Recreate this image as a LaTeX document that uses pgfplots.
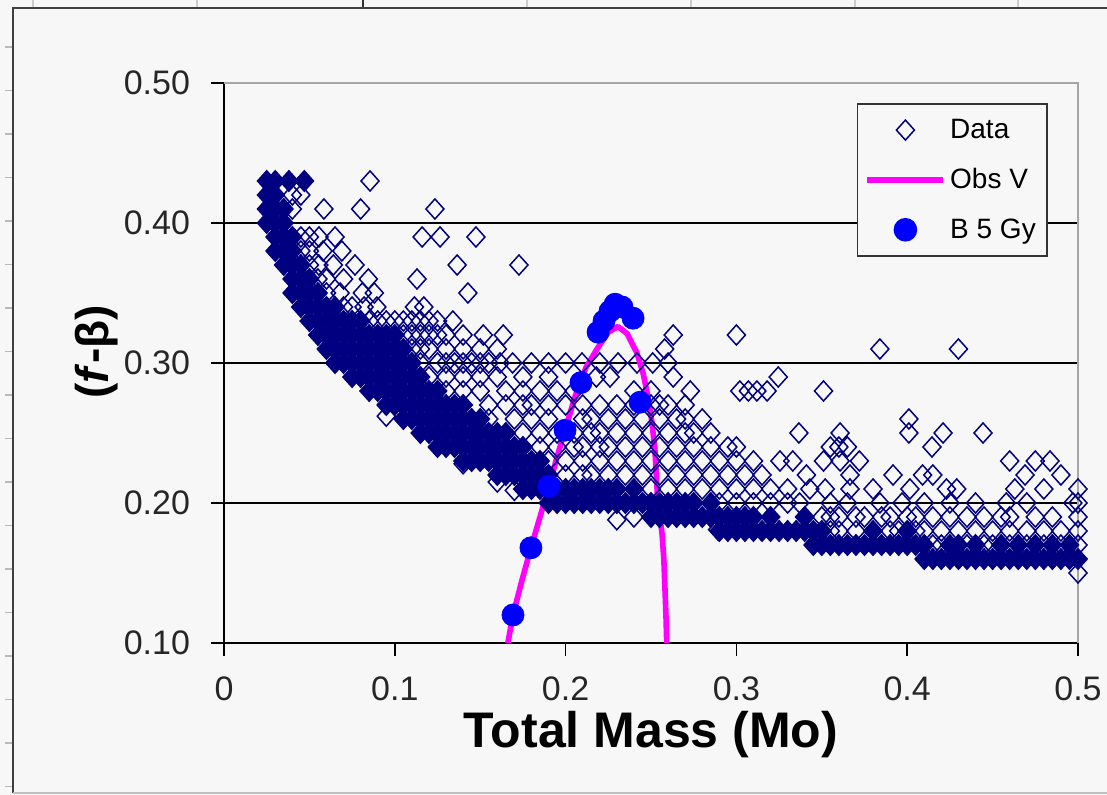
\documentclass[border=0pt]{standalone}
\usepackage{fontspec}
\setmainfont{Liberation Sans}
\usepackage{pgfplots}
\pgfplotsset{compat=1.18}
\definecolor{bgc}{RGB}{247,247,247}
\definecolor{navy}{RGB}{0,0,128}
\definecolor{mag}{RGB}{255,0,255}
\definecolor{bl}{RGB}{0,0,255}
\pgfplotsset{
  markleg/.style={legend image code/.code={\draw[mark repeat=2,mark phase=2,##1] plot coordinates {(0pt,0pt) (19pt,0pt) (38pt,0pt)};}},
  lineleg/.style={legend image code/.code={\draw[##1] (0pt,0pt) -- (38pt,0pt);}},
}
\begin{document}
\begin{tikzpicture}
\useasboundingbox (0,0) rectangle (553.5pt,397.5pt);
\fill[gray!6] (0,0) rectangle (553.5pt,397.5pt);
\foreach \xx in {16.5,98.5,263.5,345.5,427.5,509}{\draw[gray!40,line width=0.8pt] (\xx pt,393.5pt) -- (\xx pt,397.5pt);}
\draw[black!80,line width=0.8pt] (181.5pt,393.5pt) -- (181.5pt,397.5pt);
\foreach \k in {0,...,17}{\draw[gray!55,line width=0.6pt] (2.5pt,{374pt-\k*21.75pt}) -- (6.5pt,{374pt-\k*21.75pt});}
\fill[bgc] (6.5pt,1pt) rectangle (560pt,393.5pt);
\draw[black!75,line width=1pt] (6.5pt,1pt) -- (6.5pt,393.5pt) -- (560pt,393.5pt);
\draw[gray!50,line width=0.8pt] (6.5pt,1pt) -- (560pt,1pt);
\begin{axis}[
  at={(112pt,76pt)}, anchor=south west,
  scale only axis, width=427pt, height=280pt,
  xmin=0, xmax=0.5, ymin=0.1, ymax=0.5,
  axis x line*=bottom, axis y line*=left,
  axis line style={black, line width=1pt},
  xtick={0,0.1,0.2,0.3,0.4,0.5},
  ytick={0.1,0.2,0.3,0.4,0.5},
  tick align=outside, major tick length=6.5pt,
  tick style={black, line width=0.8pt},
  ymajorgrids, grid style={black, line width=0.9pt},
  /pgf/number format/assume math mode=true,
  ticklabel style={font=\fontsize{17}{20}\selectfont, text=black!85},
  yticklabel style={/pgf/number format/.cd, fixed, fixed zerofill, precision=2, /tikz/.cd, xshift=-7pt},
  xticklabel style={/pgf/number format/.cd, fixed, /tikz/.cd, yshift=-7pt},
  xlabel={Total Mass (Mo)}, ylabel={(\textit{f}-β)},
  label style={font=\bfseries\fontsize{25}{28}\selectfont},
  xlabel style={at={(axis description cs:0.5,-0.163)}, anchor=center},
  ylabel style={at={(axis description cs:-0.149,0.52)}, anchor=center, font=\bfseries\fontsize{23}{26}\selectfont},
  clip=false,
  legend cell align=left,
  legend style={at={(0.741,0.964)}, anchor=north west, draw=black!80, line width=0.8pt, fill=bgc,
    font=\fontsize{14}{16}\selectfont, inner xsep=3.5pt, inner ysep=5.5pt, row sep=9.5pt,
    nodes={inner sep=2pt}},
]
% dense core of the data (filled where the markers overlap)
\addplot[only marks, mark=diamond*, mark size=5.2pt, draw=navy, fill=navy, mark options={xscale=1.2, line width=0.6pt}, forget plot] coordinates {
(0.025,0.40)(0.025,0.41)(0.025,0.42)(0.025,0.43)
(0.03,0.38)(0.03,0.39)(0.03,0.40)(0.03,0.41)(0.03,0.42)(0.03,0.43)
(0.035,0.37)(0.035,0.38)(0.035,0.39)(0.035,0.40)(0.035,0.41)
(0.038,0.43)(0.047,0.43)
(0.04,0.35)(0.04,0.36)(0.04,0.37)(0.04,0.38)(0.04,0.39)
(0.045,0.34)(0.045,0.35)(0.045,0.36)(0.045,0.37)
(0.05,0.33)(0.05,0.34)(0.05,0.35)(0.05,0.36)
(0.055,0.32)(0.055,0.33)(0.055,0.34)(0.055,0.35)
(0.06,0.31)(0.06,0.32)(0.06,0.33)(0.06,0.34)
(0.065,0.30)(0.065,0.31)(0.065,0.32)(0.065,0.33)(0.065,0.34)
(0.07,0.30)(0.07,0.31)(0.07,0.32)(0.07,0.33)
(0.075,0.29)(0.075,0.30)(0.075,0.31)(0.075,0.32)(0.075,0.33)
(0.08,0.29)(0.08,0.30)(0.08,0.31)(0.08,0.32)(0.08,0.33)
(0.085,0.28)(0.085,0.29)(0.085,0.30)(0.085,0.31)(0.085,0.32)
(0.09,0.28)(0.09,0.29)(0.09,0.30)(0.09,0.31)(0.09,0.32)
(0.095,0.27)(0.095,0.28)(0.095,0.29)(0.095,0.30)(0.095,0.31)(0.095,0.32)
(0.10,0.27)(0.10,0.28)(0.10,0.29)(0.10,0.30)(0.10,0.31)(0.10,0.32)
(0.105,0.26)(0.105,0.27)(0.105,0.28)(0.105,0.29)(0.105,0.30)(0.105,0.31)
(0.11,0.26)(0.11,0.27)(0.11,0.28)(0.11,0.29)(0.11,0.30)
(0.115,0.25)(0.115,0.26)(0.115,0.27)(0.115,0.28)(0.115,0.29)
(0.12,0.25)(0.12,0.26)(0.12,0.27)(0.12,0.28)
(0.125,0.24)(0.125,0.25)(0.125,0.26)(0.125,0.27)(0.125,0.28)
(0.13,0.24)(0.13,0.25)(0.13,0.26)(0.13,0.27)
(0.135,0.24)(0.135,0.25)(0.135,0.26)(0.135,0.27)
(0.14,0.23)(0.14,0.24)(0.14,0.25)(0.14,0.26)(0.14,0.27)
(0.145,0.23)(0.145,0.24)(0.145,0.25)(0.145,0.26)
(0.15,0.23)(0.15,0.24)(0.15,0.25)(0.15,0.26)
(0.155,0.23)(0.155,0.24)(0.155,0.25)
(0.16,0.22)(0.16,0.23)(0.16,0.24)(0.16,0.25)
(0.165,0.22)(0.165,0.23)(0.165,0.24)(0.165,0.25)
(0.17,0.22)(0.17,0.23)(0.17,0.24)
(0.175,0.21)(0.175,0.22)(0.175,0.23)(0.175,0.24)
(0.18,0.21)(0.18,0.22)(0.18,0.23)
(0.185,0.21)(0.185,0.22)(0.185,0.23)
(0.19,0.20)(0.19,0.21)(0.19,0.22)
(0.195,0.20)(0.195,0.21)(0.20,0.20)(0.20,0.21)(0.205,0.20)(0.205,0.21)
(0.21,0.20)(0.21,0.21)(0.215,0.20)(0.215,0.21)(0.22,0.20)(0.22,0.21)
(0.225,0.20)(0.225,0.21)(0.23,0.20)(0.23,0.21)(0.235,0.20)
(0.24,0.20)(0.24,0.21)(0.245,0.20)
(0.25,0.19)(0.25,0.20)(0.255,0.19)(0.255,0.20)(0.26,0.19)(0.26,0.20)
(0.265,0.19)(0.265,0.20)(0.27,0.19)(0.27,0.20)(0.275,0.19)(0.275,0.20)
(0.28,0.19)(0.285,0.19)(0.285,0.20)
(0.29,0.18)(0.29,0.19)(0.295,0.18)(0.295,0.19)(0.30,0.18)(0.30,0.19)
(0.305,0.18)(0.305,0.19)(0.31,0.18)(0.31,0.19)
(0.315,0.18)(0.32,0.18)(0.32,0.19)(0.325,0.18)(0.33,0.18)(0.335,0.18)(0.34,0.18)(0.34,0.19)
(0.345,0.17)(0.345,0.18)(0.35,0.17)(0.35,0.18)
(0.355,0.17)(0.36,0.17)(0.365,0.17)(0.37,0.17)(0.375,0.17)
(0.38,0.17)(0.38,0.18)(0.385,0.17)(0.39,0.17)(0.395,0.17)(0.40,0.17)(0.40,0.18)(0.405,0.17)
(0.41,0.16)(0.41,0.17)(0.415,0.16)(0.42,0.16)(0.425,0.16)(0.425,0.17)(0.43,0.16)(0.43,0.17)
(0.435,0.16)(0.44,0.16)(0.44,0.17)(0.445,0.16)(0.45,0.16)(0.455,0.16)(0.455,0.17)
(0.46,0.16)(0.465,0.16)(0.465,0.17)(0.47,0.16)(0.475,0.16)(0.475,0.17)
(0.48,0.16)(0.485,0.16)(0.485,0.17)(0.49,0.16)(0.495,0.16)(0.495,0.17)(0.50,0.16)
};
% Data (open diamonds)
\addplot[only marks, mark=diamond, mark size=5pt, draw=navy, mark options={xscale=1.2, line width=0.75pt}, markleg] coordinates {
(0.0855,0.43)
(0.040,0.42)(0.045,0.42)
(0.040,0.41)(0.0585,0.41)(0.080,0.41)(0.1235,0.41)
(0.045,0.39)(0.050,0.39)(0.0556,0.39)(0.065,0.39)(0.116,0.39)(0.1265,0.39)(0.1475,0.39)
(0.045,0.38)(0.050,0.38)(0.058,0.38)(0.069,0.38)
(0.050,0.37)(0.0555,0.37)(0.064,0.37)(0.0767,0.37)(0.1365,0.37)(0.1727,0.37)
(0.055,0.36)(0.060,0.36)(0.070,0.36)(0.0845,0.36)(0.113,0.36)
(0.060,0.35)(0.068,0.35)(0.081,0.35)(0.088,0.35)(0.1428,0.35)
(0.070,0.34)(0.075,0.34)(0.082,0.34)(0.0895,0.34)(0.1115,0.34)(0.117,0.34)
(0.085,0.33)(0.090,0.33)(0.095,0.33)(0.100,0.33)(0.105,0.33)(0.110,0.33)(0.115,0.33)(0.120,0.33)(0.125,0.33)(0.134,0.33)
(0.105,0.32)(0.110,0.32)(0.115,0.32)(0.120,0.32)(0.125,0.32)(0.130,0.32)(0.140,0.32)(0.1518,0.32)(0.1635,0.32)(0.263,0.32)(0.300,0.32)
(0.110,0.31)(0.115,0.31)(0.120,0.31)(0.130,0.31)(0.140,0.31)(0.150,0.31)(0.160,0.31)(0.258,0.31)(0.384,0.31)(0.430,0.31)
(0.115,0.30)(0.125,0.30)(0.130,0.30)(0.135,0.30)(0.140,0.30)(0.145,0.30)(0.150,0.30)(0.155,0.30)(0.1616,0.30)(0.169,0.30)(0.180,0.30)(0.190,0.30)(0.200,0.30)(0.2096,0.30)(0.220,0.30)(0.2307,0.30)(0.2418,0.30)(0.251,0.30)(0.260,0.30)
(0.120,0.29)(0.130,0.29)(0.140,0.29)(0.150,0.29)(0.160,0.29)(0.175,0.29)(0.190,0.29)(0.218,0.29)(0.226,0.29)(0.263,0.29)(0.3245,0.29)
(0.130,0.28)(0.140,0.28)(0.150,0.28)(0.165,0.28)(0.175,0.28)(0.185,0.28)(0.195,0.28)(0.205,0.28)(0.240,0.28)(0.250,0.28)(0.273,0.28)(0.302,0.28)(0.307,0.28)(0.312,0.28)(0.318,0.28)(0.351,0.28)
(0.155,0.27)(0.165,0.27)(0.175,0.27)(0.180,0.27)(0.190,0.27)(0.200,0.27)(0.210,0.27)(0.220,0.27)(0.230,0.27)(0.240,0.27)(0.250,0.27)(0.255,0.27)(0.260,0.27)(0.270,0.27)
(0.155,0.26)(0.170,0.26)(0.180,0.26)(0.190,0.26)(0.210,0.26)(0.215,0.26)(0.225,0.26)(0.235,0.26)(0.245,0.26)(0.255,0.26)(0.265,0.26)(0.270,0.26)(0.280,0.26)(0.401,0.26)
(0.175,0.25)(0.185,0.25)(0.195,0.25)(0.205,0.25)(0.215,0.25)(0.220,0.25)(0.230,0.25)(0.240,0.25)(0.250,0.25)(0.260,0.25)(0.270,0.25)(0.275,0.25)(0.285,0.25)(0.3366,0.25)(0.3607,0.25)(0.401,0.25)(0.421,0.25)(0.4444,0.25)
(0.185,0.24)(0.195,0.24)(0.205,0.24)(0.210,0.24)(0.220,0.24)(0.225,0.24)(0.235,0.24)(0.245,0.24)(0.255,0.24)(0.265,0.24)(0.275,0.24)(0.285,0.24)(0.295,0.24)(0.300,0.24)(0.355,0.24)(0.360,0.24)(0.365,0.24)(0.4145,0.24)
(0.190,0.23)(0.200,0.23)(0.210,0.23)(0.220,0.23)(0.230,0.23)(0.240,0.23)(0.250,0.23)(0.260,0.23)(0.270,0.23)(0.280,0.23)(0.290,0.23)(0.300,0.23)(0.310,0.23)(0.3255,0.23)(0.333,0.23)(0.351,0.23)(0.3607,0.23)(0.372,0.23)(0.460,0.23)(0.475,0.23)(0.4836,0.23)
(0.200,0.22)(0.210,0.22)(0.215,0.22)(0.225,0.22)(0.235,0.22)(0.245,0.22)(0.255,0.22)(0.265,0.22)(0.275,0.22)(0.285,0.22)(0.295,0.22)(0.305,0.22)(0.315,0.22)(0.341,0.22)(0.3665,0.22)(0.3917,0.22)(0.409,0.22)(0.415,0.22)(0.469,0.22)(0.490,0.22)
(0.250,0.21)(0.260,0.21)(0.270,0.21)(0.280,0.21)(0.290,0.21)(0.300,0.21)(0.310,0.21)(0.320,0.21)(0.330,0.21)(0.343,0.21)(0.352,0.21)(0.3665,0.21)(0.380,0.21)(0.4016,0.21)(0.423,0.21)(0.429,0.21)(0.463,0.21)(0.480,0.21)(0.500,0.21)
(0.290,0.20)(0.300,0.20)(0.310,0.20)(0.320,0.20)(0.330,0.20)(0.337,0.20)(0.355,0.20)(0.365,0.20)(0.384,0.20)(0.397,0.20)(0.410,0.20)(0.425,0.20)(0.440,0.20)(0.458,0.20)(0.470,0.20)(0.497,0.20)(0.500,0.20)
(0.350,0.19)(0.355,0.19)(0.360,0.19)(0.370,0.19)(0.375,0.19)(0.385,0.19)(0.390,0.19)(0.400,0.19)(0.405,0.19)(0.415,0.19)(0.425,0.19)(0.435,0.19)(0.445,0.19)(0.455,0.19)(0.460,0.19)(0.475,0.19)(0.485,0.19)(0.500,0.19)
(0.355,0.18)(0.360,0.18)(0.370,0.18)(0.390,0.18)(0.395,0.18)(0.405,0.18)(0.410,0.18)(0.420,0.18)(0.430,0.18)(0.440,0.18)(0.450,0.18)(0.460,0.18)(0.470,0.18)(0.480,0.18)(0.490,0.18)(0.500,0.18)
(0.415,0.17)(0.420,0.17)(0.435,0.17)(0.445,0.17)(0.450,0.17)(0.460,0.17)(0.470,0.17)(0.480,0.17)(0.490,0.17)(0.500,0.17)
(0.500,0.15)
(0.095,0.262)(0.140,0.228)(0.160,0.215)(0.170,0.209)(0.230,0.188)(0.240,0.190)(0.289,0.181)
};
\addlegendentry{Data}
% Obs V
\addplot[mag, line width=2.8pt, line join=round, lineleg] coordinates {
(0.1662,0.100)(0.1692,0.120)(0.1745,0.145)(0.1797,0.168)(0.1850,0.190)(0.1903,0.212)(0.1950,0.233)(0.1997,0.252)(0.2055,0.276)(0.2120,0.297)(0.2184,0.310)(0.2250,0.322)(0.2307,0.326)(0.2360,0.321)(0.2418,0.307)(0.2455,0.292)(0.2482,0.276)(0.2505,0.258)(0.2523,0.238)(0.2540,0.200)(0.2564,0.179)(0.2575,0.160)(0.2582,0.138)(0.2588,0.118)(0.2592,0.100)
};
\addlegendentry{Obs V}
% B 5 Gy
\addplot[only marks, mark=*, mark size=5.5pt, draw=bl, fill=bl, markleg] coordinates {
(0.1692,0.120)(0.1797,0.168)(0.1903,0.212)(0.1997,0.252)(0.2090,0.286)(0.2190,0.322)(0.2225,0.330)(0.2260,0.337)(0.2290,0.342)(0.2330,0.340)(0.2395,0.332)(0.2436,0.272)
};
\addlegendentry{B 5 Gy}
\draw[gray!70, line width=1.1pt] (rel axis cs:0,1) -- (rel axis cs:1,1) -- (rel axis cs:1,0);
\end{axis}
\end{tikzpicture}
\end{document}
